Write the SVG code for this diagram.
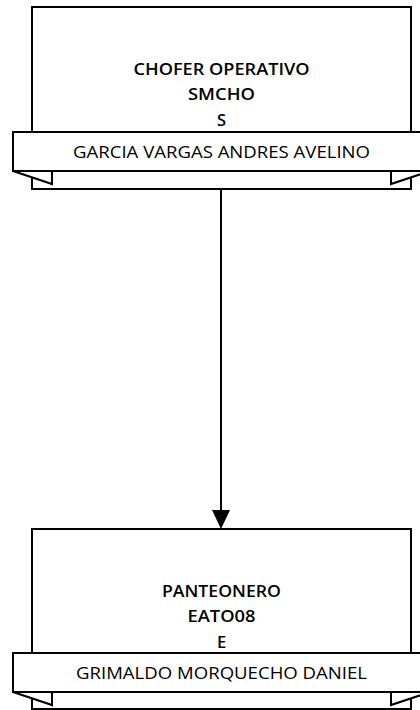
<svg xmlns="http://www.w3.org/2000/svg" width="420" height="710" viewBox="0 0 420 710">
<style>
.box{fill:#fff;stroke:#000;stroke-width:2}
.ban{fill:#fff;stroke:#000;stroke-width:2;stroke-linejoin:miter}
.t{font-family:"Open Sans","Liberation Sans",Arial,sans-serif;font-size:16.5px;font-weight:600;text-anchor:middle;fill:#000}
.n{font-family:"Open Sans","Liberation Sans",Arial,sans-serif;font-size:16.5px;text-anchor:middle;fill:#000}
.c{stroke:#000;stroke-width:2;fill:none}
</style>
<rect width="420" height="710" fill="#fff"/>
<g id="connectors">
<line class="c" x1="221" y1="189" x2="221" y2="512"/>
<polygon points="212,510 230,510 221,529" fill="#000"/>
</g>
<g id="node1">
<rect class="box" x="32" y="7" width="379" height="182"/>
<polygon class="ban" points="13,171 52,184 52,171"/>
<polygon class="ban" points="430,171 391,184 391,171"/>
<rect class="ban" x="13" y="132" width="417" height="39"/>
<text class="t" x="221.5" y="75" textLength="176" lengthAdjust="spacingAndGlyphs">CHOFER OPERATIVO</text>
<text class="t" x="221.5" y="100" textLength="67" lengthAdjust="spacingAndGlyphs">SMCHO</text>
<text class="t" x="221.5" y="126">S</text>
<text class="n" x="221.5" y="158" textLength="297" lengthAdjust="spacingAndGlyphs">GARCIA VARGAS ANDRES AVELINO</text>
</g>
<g id="node2">
<rect class="box" x="32" y="529" width="379" height="180"/>
<polygon class="ban" points="13,692 52,705 52,692"/>
<polygon class="ban" points="430,692 391,705 391,692"/>
<rect class="ban" x="13" y="653" width="417" height="39"/>
<text class="t" x="221.5" y="597" textLength="119" lengthAdjust="spacingAndGlyphs">PANTEONERO</text>
<text class="t" x="221.5" y="622" textLength="68" lengthAdjust="spacingAndGlyphs">EATO08</text>
<text class="t" x="221.5" y="648">E</text>
<text class="n" x="221.5" y="679" textLength="291" lengthAdjust="spacingAndGlyphs">GRIMALDO MORQUECHO DANIEL</text>
</g>
</svg>
